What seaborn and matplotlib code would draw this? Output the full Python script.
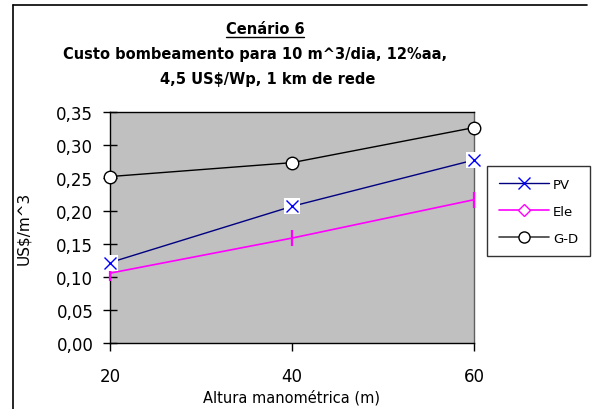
"""
Cenário 6 - custo de bombeamento (PV / Ele / G-D)
"""
import matplotlib
matplotlib.use('Agg')
import matplotlib.pyplot as plt
import seaborn as sns
import pandas as pd
from matplotlib.lines import Line2D
from matplotlib.ticker import FuncFormatter, MultipleLocator

# dados
altura = [20, 40, 60]
custo_pv = [0.122, 0.207, 0.277]
custo_ele = [0.106, 0.159, 0.217]
custo_gd = [0.252, 0.273, 0.326]
series = ['PV', 'Ele', 'G-D']

sns.set_theme(style='white')
plt.rcParams['font.family'] = ['DejaVu Sans']
plt.rcParams['text.color'] = 'black'
plt.rcParams['axes.labelcolor'] = 'black'

df = pd.DataFrame({'altura': altura, 'PV': custo_pv, 'Ele': custo_ele, 'G-D': custo_gd})

fig = plt.figure(figsize=(5.98, 4.10), dpi=100)
ax = fig.add_axes([0.1839, 0.1602, 0.6087, 0.5649])
ax.set_facecolor('#C0C0C0')

sns.lineplot(data=df, x='altura', y='G-D', ax=ax, color='black', lw=1,
             marker='o', markersize=9, markerfacecolor='white',
             markeredgecolor='black', markeredgewidth=1, clip_on=False, zorder=3)
sns.lineplot(data=df, x='altura', y='Ele', ax=ax, color='#FF00FF', lw=1.2,
             marker='|', markersize=11, markeredgewidth=1.6,
             markeredgecolor='#FF00FF', clip_on=False, zorder=3)
sns.lineplot(data=df, x='altura', y='PV', ax=ax, color='#000080', lw=1,
             clip_on=False, zorder=3)
# marcador X com fundo branco
ax.plot(altura, custo_pv, ls='none', marker='s', markersize=11.5,
        markerfacecolor='white', markeredgewidth=0, clip_on=False, zorder=4)
ax.plot(altura, custo_pv, ls='none', marker='x', markersize=9,
        markeredgecolor='#0000FF', markeredgewidth=1, clip_on=False, zorder=5)

ax.set_xlim(20, 60)
ax.set_ylim(0, 0.35)
ax.set_xticks(altura)
ax.yaxis.set_major_locator(MultipleLocator(0.05))
ax.yaxis.set_major_formatter(FuncFormatter(lambda v, p: f'{v:.2f}'.replace('.', ',')))
ax.tick_params(axis='y', direction='inout', length=10, width=1, pad=7,
               labelsize=12, colors='black', left=True)
ax.tick_params(axis='x', direction='out', length=6, width=1, pad=11,
               labelsize=12, colors='black', bottom=True)
for s in ax.spines.values():
    s.set_color('black')
    s.set_linewidth(1)
ax.spines['right'].set_color('#606060')

ax.set_xlabel('Altura manométrica (m)', fontsize=10.5, labelpad=3)
ax.set_ylabel('US$/m^3', fontsize=11, labelpad=18)

# legenda
handles = [
    Line2D([], [], color='#000080', lw=1, marker='x', markersize=8,
           markeredgecolor='#0000FF', markeredgewidth=1),
    Line2D([], [], color='#FF00FF', lw=1.2, marker='D', markersize=6,
           markerfacecolor='white', markeredgecolor='#FF00FF', markeredgewidth=1),
    Line2D([], [], color='#404040', lw=1.2, marker='o', markersize=8,
           markerfacecolor='white', markeredgecolor='black', markeredgewidth=1),
]
leg = fig.legend(handles, series, loc='upper left', bbox_to_anchor=(0.8144, 0.5927),
                 fontsize=9.5, frameon=True, fancybox=False, handlelength=3.8,
                 labelspacing=1.05, borderpad=0.9, handletextpad=0.3,
                 borderaxespad=0)
leg.get_frame().set_edgecolor('black')
leg.get_frame().set_linewidth(1)

# título
t1 = fig.text(0.443, 0.928, 'Cenário 6', ha='center', va='center',
              fontsize=10.5, fontweight='bold')
fig.text(0.427, 0.867, 'Custo bombeamento para 10 m^3/dia, 12%aa,',
         ha='center', va='center', fontsize=10.5, fontweight='bold')
fig.text(0.448, 0.805, '4,5 US$/Wp, 1 km de rede', ha='center', va='center',
         fontsize=10.5, fontweight='bold')

fig.canvas.draw()
bb = t1.get_window_extent().transformed(fig.transFigure.inverted())
fig.add_artist(Line2D([bb.x0, bb.x1], [bb.y0 - 0.002, bb.y0 - 0.002],
                      color='black', lw=1))

# moldura (esquerda e topo)
fig.add_artist(Line2D([0.021, 0.021], [0, 0.985], color='black', lw=1.2))
fig.add_artist(Line2D([0.021, 0.9816], [0.985, 0.985], color='black', lw=1.2))

plt.savefig('out.png', dpi=100)
plt.close()
